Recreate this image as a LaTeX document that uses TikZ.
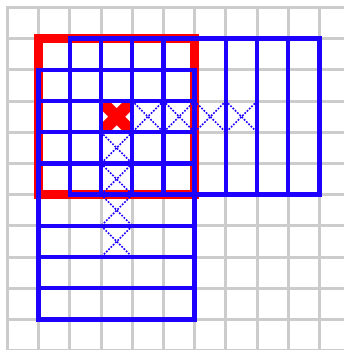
\documentclass[tikz,border=0pt]{standalone}
\definecolor{myblue}{RGB}{30,0,255}
\definecolor{mygray}{RGB}{204,204,204}
\tikzset{
  graygrid/.style={mygray,line width=2.25pt},
  redbox/.style={red,line width=7.1pt},
  redcross/.style={red,line width=9pt},
  blueline/.style={myblue,line width=3.3pt},
  bluecross/.style={myblue,line width=1.2pt,dash pattern=on 1.3pt off 1.1pt}
}
\begin{document}
\begin{tikzpicture}[x=23.4pt,y=-23.4pt]
\useasboundingbox (-0.2404,-0.2404) rectangle (10.785,10.978);
\clip (-0.2404,-0.2404) rectangle (10.785,10.978);
% background grid
\foreach \i in {0,...,11}{
  \draw[graygrid] (\i,-0.05) -- (\i,11.5);
  \draw[graygrid] (-0.05,\i) -- (11.5,\i);
}
% red square
\draw[redbox] (1,1) rectangle (6,6);
% red cross
\begin{scope}
  \clip (3,3) rectangle (4,4);
  \draw[redcross] (3,3) -- (4,4) (4,3) -- (3,4);
\end{scope}
% blue dotted crosses
\foreach \x in {4,5,6,7}{
  \draw[bluecross] (\x,3) -- (\x+1,4) (\x+1,3) -- (\x,4);
}
\foreach \y in {4,5,6,7}{
  \draw[bluecross] (3,\y) -- (4,\y+1) (4,\y) -- (3,\y+1);
}
% blue grid A (tall)
\draw[blueline] (1,2) rectangle (6,10);
\foreach \y in {3,4,5,7,8,9}{
  \draw[blueline] (1,\y) -- (6,\y);
}
% blue grid B (wide)
\draw[blueline] (2,1) rectangle (10,6);
\foreach \x in {3,4,5,7,8,9}{
  \draw[blueline] (\x,1) -- (\x,6);
}
\end{tikzpicture}
\end{document}
